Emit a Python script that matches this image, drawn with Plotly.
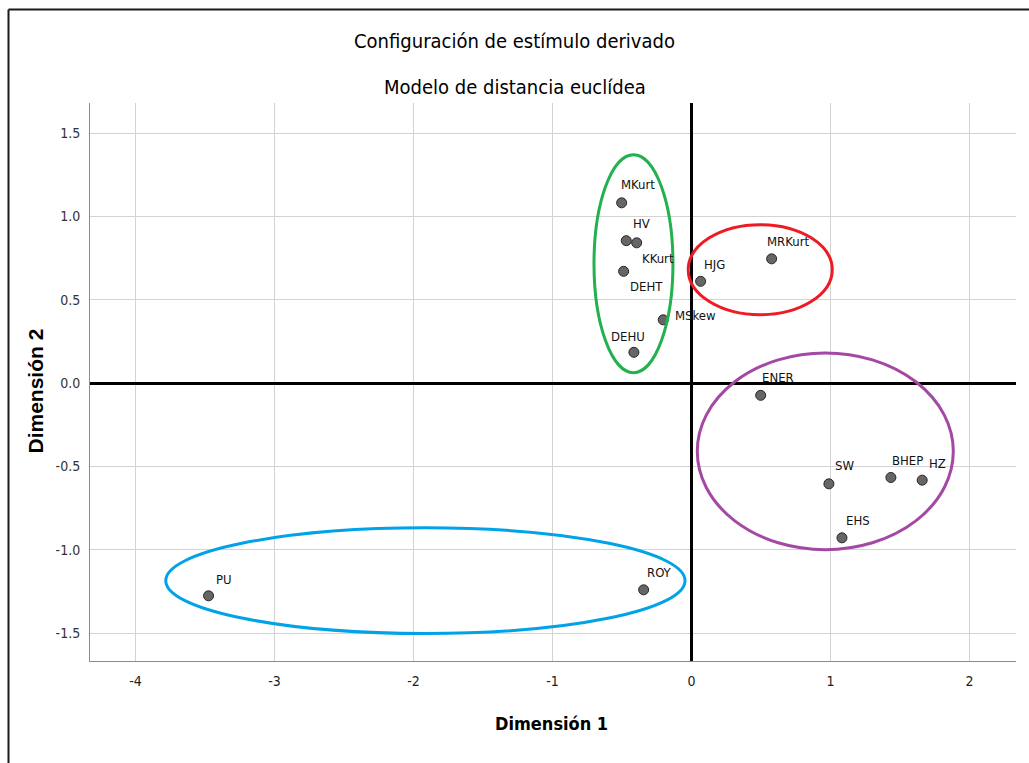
import plotly.graph_objects as go

# Derived stimulus configuration (Euclidean distance model)
labels = ["MKurt", "HV", "KKurt", "DEHT", "MSkew", "DEHU", "HJG", "MRKurt",
          "ENER", "SW", "BHEP", "HZ", "EHS", "PU", "ROY"]
dim1 = [-0.502, -0.469, -0.394, -0.488, -0.203, -0.414, 0.066, 0.577,
        0.498, 0.989, 1.435, 1.660, 1.083, -3.474, -0.344]
dim2 = [1.082, 0.855, 0.842, 0.671, 0.380, 0.185, 0.611, 0.746,
        -0.073, -0.604, -0.566, -0.582, -0.928, -1.276, -1.240]

# Axis ticks
x_ticks = [-4, -3, -2, -1, 0, 1, 2]
x_tick_text = ["-4", "-3", "-2", "-1", "0", "1", "2"]
y_ticks = [-1.5, -1.0, -0.5, 0.0, 0.5, 1.0, 1.5]
y_tick_text = ["-1.5", "-1.0", "-0.5", "0.0", "0.5", "1.0", "1.5"]

# Cluster outlines: centre and half-widths in dimension units
cluster_names = ["verde", "rojo", "morado", "azul"]
cluster_cx = [-0.417, 0.495, 0.963, -1.914]
cluster_cy = [0.717, 0.681, -0.409, -1.185]
cluster_rx = [0.284, 0.518, 0.921, 1.868]
cluster_ry = [0.654, 0.270, 0.590, 0.317]
cluster_colors = ["#22B14C", "#ED1C24", "#A349A4", "#00A2E8"]

# Label placement relative to each point (pixels: right, down)
label_offset = {
    "MKurt": (-3, -18), "HV": (5, -17), "KKurt": (3, 16), "DEHT": (4, 15),
    "MSkew": (10, -4), "DEHU": (-25, -16), "HJG": (1, -17), "MRKurt": (-7, -17),
    "ENER": (-1, -18), "SW": (4, -18), "BHEP": (-1, -17), "HZ": (5, -17),
    "EHS": (2, -17), "PU": (5, -16), "ROY": (1, -17),
}

NARROW = "DejaVu Sans Condensed, Liberation Sans, sans-serif"
REGULAR = "Liberation Sans, Arial, sans-serif"

W, H = 1029, 763
ML, MR, MT, MB = 90, 13, 103, 102
PW, PH = W - ML - MR, H - MT - MB


def px_x(px):
    return (px - ML) / PW


def px_y(py):
    return (H - MB - py) / PH


fig = go.Figure()
fig.add_trace(go.Scatter(
    x=dim1, y=dim2, mode="markers",
    marker=dict(size=10, color="#666666", line=dict(color="#262626", width=1)),
    hovertext=labels, showlegend=False,
))

annotations = []
for name, x, y in zip(labels, dim1, dim2):
    dx, dy = label_offset[name]
    annotations.append(dict(
        x=x, y=y, xref="x", yref="y", text=name, showarrow=False,
        xanchor="left", yanchor="middle", xshift=dx, yshift=-dy,
        font=dict(family=NARROW, size=13, color="#111111"),
    ))

# Titles
annotations += [
    dict(x=px_x(514.5), y=px_y(40.5), xref="paper", yref="paper",
         text="Configuración de estímulo derivado", showarrow=False,
         xanchor="center", yanchor="middle",
         font=dict(family=NARROW, size=20, color="#000000")),
    dict(x=px_x(514.5), y=px_y(87), xref="paper", yref="paper",
         text="Modelo de distancia euclídea", showarrow=False,
         xanchor="center", yanchor="middle",
         font=dict(family=NARROW, size=20, color="#000000")),
    dict(x=px_x(551), y=px_y(723), xref="paper", yref="paper",
         text="<b>Dimensión 1</b>", showarrow=False,
         xanchor="center", yanchor="middle",
         font=dict(family=NARROW, size=18, color="#000000")),
    dict(x=px_x(35), y=px_y(391.5), xref="paper", yref="paper",
         text="<b>Dimensión 2</b>", showarrow=False, textangle=-90,
         xanchor="center", yanchor="middle",
         font=dict(family=REGULAR, size=21, color="#000000")),
]

shapes = []
for cx, cy, rx, ry, col in zip(cluster_cx, cluster_cy, cluster_rx, cluster_ry, cluster_colors):
    shapes.append(dict(type="circle", xref="x", yref="y",
                       x0=cx - rx, x1=cx + rx, y0=cy - ry, y1=cy + ry,
                       line=dict(color=col, width=3)))

# Outer frame (top and left edges)
shapes += [
    dict(type="line", xref="paper", yref="paper",
         x0=px_x(8.5), x1=px_x(W + 5), y0=px_y(9.5), y1=px_y(9.5),
         line=dict(color="#1a1a1a", width=2)),
    dict(type="line", xref="paper", yref="paper",
         x0=px_x(8.5), x1=px_x(8.5), y0=px_y(9.5), y1=px_y(H + 5),
         line=dict(color="#1a1a1a", width=2)),
]

fig.update_layout(
    width=W, height=H,
    margin=dict(l=ML, r=MR, t=MT, b=MB, pad=0),
    paper_bgcolor="white", plot_bgcolor="white",
    annotations=annotations, shapes=shapes,
    showlegend=False,
)
fig.update_xaxes(
    range=[-4.327, 2.335], tickvals=x_ticks, ticktext=x_tick_text,
    showgrid=True, gridcolor="#d3d3d3", gridwidth=1,
    zeroline=True, zerolinecolor="#000000", zerolinewidth=3,
    showline=True, linecolor="#8c8c8c", linewidth=1, mirror=False,
    ticks="", ticklabelstandoff=7,
    tickfont=dict(family=NARROW, size=14, color="#222222"),
)
fig.update_yaxes(
    range=[-1.667, 1.681], tickvals=y_ticks, ticktext=y_tick_text,
    showgrid=True, gridcolor="#d3d3d3", gridwidth=1,
    zeroline=True, zerolinecolor="#000000", zerolinewidth=3,
    showline=True, linecolor="#8c8c8c", linewidth=1, mirror=False,
    ticks="", ticklabelstandoff=6,
    tickfont=dict(family=NARROW, size=14, color="#333333"),
)

fig.write_html("out.html")
